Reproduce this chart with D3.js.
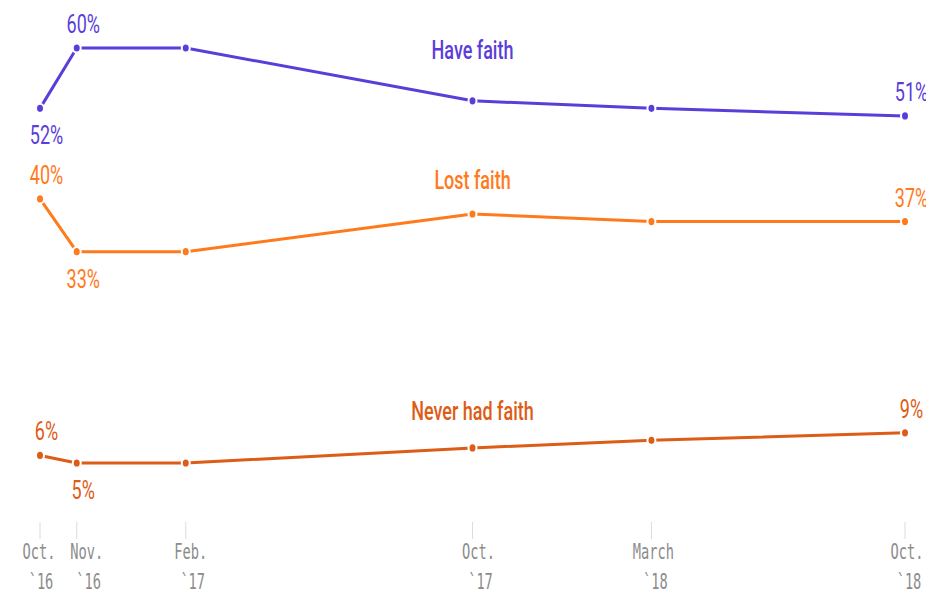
<!DOCTYPE html>
<html>
<head>
<meta charset="utf-8">
<script src="https://cdn.jsdelivr.net/npm/d3@7"></script>
<style>
  html, body { margin: 0; padding: 0; background: #fff; }
  svg { display: block; overflow: hidden; }
</style>
</head>
<body>
<svg id="chart" width="926" height="593"></svg>
<script>
// ---- data ----
const dates = ["2016-10", "2016-11", "2017-02", "2017-10", "2018-03", "2018-10"];
const tickLine1 = ["Oct.", "Nov.", "Feb.", "Oct.", "March", "Oct."];
const tickLine2 = ["`16", "`16", "`17", "`17", "`18", "`18"];
const seriesNames = ["Have faith", "Lost faith", "Never had faith"];
const haveFaith = [52, 60, 60, 53, 52, 51];
const lostFaith = [40, 33, 33, 38, 37, 37];
const neverHadFaith = [6, 5, 5, 7, 8, 9];
const labeledPoints = [0, 1, 5];

// ---- styles ----
const colors = ["#5b3dd9", "#ff7a1c", "#dd5c16"];
const nameDy = [-42, -25, -28];
const tickDx = [-1, 10, 5, 6, 2, 2];

const parse = d3.timeParse("%Y-%m");
const dts = dates.map(parse);
const svg = d3.select("#chart");

const x = d3.scaleTime().domain([dts[0], dts[dts.length - 1]]).range([40, 905]);
const y = d3.scaleLinear().domain([0, 60]).range([500.7, 48]);

const series = [haveFaith, lostFaith, neverHadFaith].map((v, k) => ({
  name: seriesNames[k], values: v, color: colors[k], dy: nameDy[k]
}));

// ---- axis ----
const axisG = svg.append("g");
axisG.selectAll("line.tick").data(dts).join("line")
  .attr("x1", d => x(d)).attr("x2", d => x(d))
  .attr("y1", 522).attr("y2", 539)
  .attr("stroke", "#dcdcdc").attr("stroke-width", 1);

function stretched(sel, sy) {
  return sel;
}

axisG.selectAll("text.l1").data(dts).join("text")
  .attr("class", "l1")
  .attr("transform", (d, i) => `translate(${x(d) + tickDx[i]},559) scale(1,1.6)`)
  .attr("text-anchor", "middle")
  .attr("font-family", "'DejaVu Sans Mono', monospace")
  .attr("font-size", 13.7)
  .attr("fill", "#8c8c8c")
  .text((d, i) => tickLine1[i]);

axisG.selectAll("text.l2").data(dts).join("text")
  .attr("class", "l2")
  .attr("transform", (d, i) => `translate(${x(d) + tickDx[i] + 2},589) scale(1,1.6)`)
  .attr("text-anchor", "middle")
  .attr("font-family", "'DejaVu Sans Mono', monospace")
  .attr("font-size", 13.7)
  .attr("fill", "#8c8c8c")
  .text((d, i) => tickLine2[i]);

// ---- lines ----
const line = d3.line()
  .x((d, i) => x(dts[i]))
  .y(d => y(d));

const sg = svg.selectAll("g.series").data(series).join("g").attr("class", "series");

sg.append("path")
  .attr("d", d => line(d.values))
  .attr("fill", "none")
  .attr("stroke", d => d.color)
  .attr("stroke-width", 3)
  .attr("stroke-linejoin", "round");

sg.each(function (s) {
  const g = d3.select(this);
  g.selectAll("ellipse").data(s.values).join("ellipse")
    .attr("cx", (d, i) => x(dts[i]))
    .attr("cy", d => y(d))
    .attr("rx", 4).attr("ry", 4.6)
    .attr("fill", s.color)
    .attr("stroke", "#fff").attr("stroke-width", 2);

  // value labels
  labeledPoints.forEach(i => {
    const v = s.values[i];
    let above;
    if (i === 0) above = v >= s.values[1];
    else if (i === 1) above = v >= s.values[0];
    else above = true;
    const ty = above ? y(v) - 15 : y(v) + 36;
    g.append("text")
      .attr("transform", `translate(${x(dts[i]) + 6.5},${ty}) scale(1,1.45)`)
      .attr("text-anchor", "middle")
      .attr("font-family", "Roboto, sans-serif")
      .attr("font-size", 18)
      .attr("fill", s.color)
      .text(v + "%");
  });

  // series name
  g.append("text")
    .attr("transform", `translate(${x(dts[3])},${y(s.values[3]) + s.dy}) scale(1,1.4)`)
    .attr("text-anchor", "middle")
    .attr("font-family", "Roboto, sans-serif")
    .attr("font-weight", 500)
    .attr("font-size", 18)
    .attr("fill", s.color)
    .text(s.name);
});
</script>
</body>
</html>
